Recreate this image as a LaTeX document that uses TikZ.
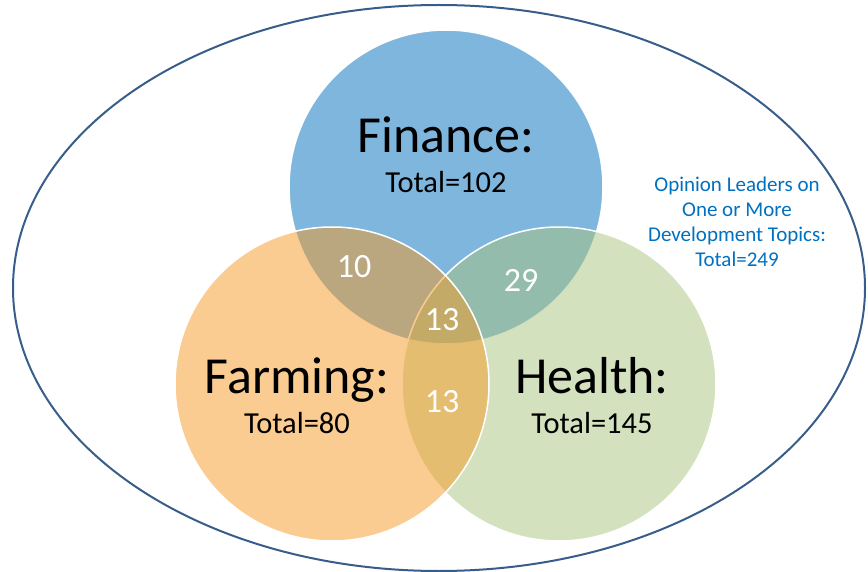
\documentclass[tikz,border=0pt]{standalone}
\usepackage{fontspec}
\setmainfont{Carlito}
\usetikzlibrary{positioning}
\definecolor{finblue}{RGB}{0,110,188}
\definecolor{farmorange}{RGB}{245,153,35}
\definecolor{hlthgreen}{RGB}{167,195,125}
\definecolor{outerblue}{RGB}{56,93,138}
\definecolor{notetext}{RGB}{0,112,192}
\tikzset{
  setc/.style={fill opacity=0.5,draw=white,line width=1.5pt},
  outer/.style={draw=outerblue,line width=2pt},
  topic/.style={anchor=base,inner sep=0pt,font=\fontsize{52}{60}\selectfont},
  total/.style={anchor=base,inner sep=0pt,font=\fontsize{30.5}{36}\selectfont},
  count/.style={inner sep=0pt,text=white,font=\fontsize{34}{40}\selectfont},
  note/.style={align=center,inner sep=0pt,text=notetext,font=\fontsize{21}{25}\selectfont}
}
\begin{document}
\begin{tikzpicture}[x=1pt,y=-1pt]
  \useasboundingbox (0,0) rectangle (868,572);
  \draw[outer] (439,288) ellipse [x radius=426, y radius=283];
  % the three topic sets, farming drawn last
  \path[setc,fill=finblue] (446,187) circle[radius=157];
  \path[setc,fill=hlthgreen] (559,384) circle[radius=157];
  \path[setc,fill=farmorange] (332,384) circle[radius=157];
  \node[topic] (fin) at (446,153) {Finance:}; \node[total] (fintot) at (446,193) {Total=102};
  \node[topic] (farm) at (297,393) {Farming:}; \node[total] (farmtot) at (297,433) {Total=80};
  \node[topic] (hlth) at (592,393) {Health:}; \node[total] (hlthtot) at (592,433) {Total=145};
  \node[count] (finfarm) at (354,267) {10}; \node[count] (finhlth) at (521,280) {29};
  \node[count] (all) at (442,320) {13}; \node[count] (farmhlth) at (442,402) {13};
  \node[note,anchor=north] (leaders) at (737,177) {Opinion Leaders on\\One or More\\Development Topics:\\Total=249};
\end{tikzpicture}
\end{document}
